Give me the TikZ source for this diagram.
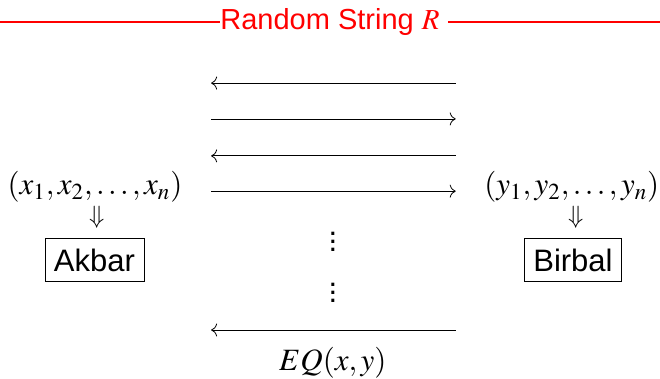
\documentclass[tikz,border=0pt]{standalone}
\usepackage{mathptmx}
\usepackage[no-math]{fontspec}
\setmainfont{Liberation Sans}
\usetikzlibrary{arrows.meta,positioning}

\tikzset{
  msg/.style={-{To[length=3pt,width=6.5pt]}},
  party/.style={draw,inner xsep=4.5pt,inner ysep=5pt,font=\fontsize{15.5}{18}\selectfont},
  big/.style={font=\fontsize{15.5}{18}\selectfont},
  dn/.style={inner sep=0pt,font=\fontsize{12.5}{15}\selectfont}
}

\begin{document}
\begin{tikzpicture}[x=1cm,y=1cm]
  \useasboundingbox (0,0) rectangle (11.60,6.66);
  % shared randomness
  \node[red,font=\fontsize{14.5}{17}\selectfont,inner sep=0pt] (rand) at (5.80,6.28) {Random String $R$};
  \coordinate (rl) at (0,6.28);
  \coordinate (rr) at (11.60,6.28);
  \draw[draw=red,line width=1pt] (rl) -- (rand.west);
  \draw[draw=red,line width=1pt] ([xshift=4pt]rand.east) -- (rr);
  % inputs and players
  \node[big] (xs) at (1.67,3.37) {$(x_1,x_2,\ldots,x_n)$};
  \node[big] (ys) at (10.05,3.37) {$(y_1,y_2,\ldots,y_n)$};
  \node[dn] (dx) at (1.70,2.85) {$\Downarrow$};
  \node[dn] (dy) at (10.12,2.85) {$\Downarrow$};
  \node[party] (akbar) at (1.66,2.09) {Akbar\hspace{8.5pt}};
  \node[party] (birbal) at (10.07,2.09) {Birbal\hspace{8.5pt}};
  % messages
  \foreach \y/\n in {5.20/a,4.57/b,3.92/c,3.30/d,0.86/e}{
    \coordinate (\n l) at (3.71,\y);
    \coordinate (\n r) at (8.01,\y);
  }
  \draw[msg] (ar) -- (al);
  \draw[msg] (bl) -- (br);
  \draw[msg] (cr) -- (cl);
  \draw[msg] (dl) -- (dr);
  \draw[msg] (er) -- (el);
  \node[big,inner sep=0pt] (dots1) at (5.85,2.52) {$\vdots$};
  \node[big,inner sep=0pt] (dots2) at (5.85,1.62) {$\vdots$};
  \node[big,inner sep=0pt] (out) at (5.85,0.28) {$EQ(x,y)$};
\end{tikzpicture}
\end{document}
